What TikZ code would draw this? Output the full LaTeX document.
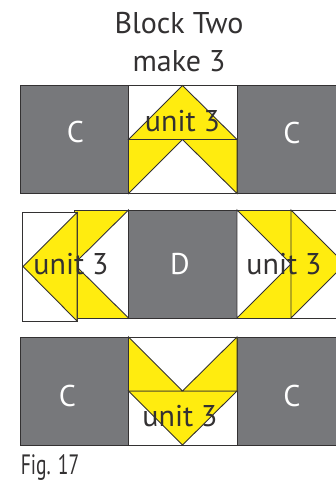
\documentclass[tikz,border=0pt]{standalone}
\usepackage{fontspec}
\setmainfont{PT Sans}
\definecolor{blockGray}{HTML}{77787B}
\definecolor{blockYellow}{HTML}{FFEC0F}
\definecolor{blockLine}{HTML}{333132}
\tikzset{
  patch/.style={draw=blockLine, line width=0.9pt, line join=miter},
  grayPatch/.style={patch, fill=blockGray},
  yellowPatch/.style={patch, fill=blockYellow},
  whitePatch/.style={patch, fill=white},
  letterLabel/.style={text=white, font=\fontsize{30}{30}\selectfont},
  unitLabel/.style={text=blockLine, font=\fontsize{30}{30}\selectfont},
  titleLabel/.style={text=blockLine, font=\fontsize{30}{30}\selectfont}
}

\begin{document}
\begin{tikzpicture}[x=1pt, y=-1pt]
  \path[use as bounding box, clip] (0,0) rectangle (336,485);
  \fill[white] (0,0) rectangle (336,485);

  % top row
  \draw[grayPatch] (20.5,85) rectangle (128.5,193.5);
  \draw[grayPatch] (237,85) rectangle (345,193.5);
  \draw[whitePatch] (128.5,85.5) rectangle (237,193.5);
  \draw[yellowPatch] (128.5,139.5) -- (182.5,85.5) -- (237,139.5) -- cycle;
  \draw[yellowPatch] (128.5,139.5) -- (182.5,139.5) -- (128.5,193.5) -- cycle;
  \draw[yellowPatch] (237,139.5) -- (182.5,139.5) -- (237,193.5) -- cycle;

  % middle row
  \draw[grayPatch] (128.5,210) rectangle (237,318);
  \draw[yellowPatch] (74,210) rectangle (128.5,318);
  \draw[whitePatch] (128.5,210) -- (74,264) -- (128.5,318) -- cycle;
  \draw[whitePatch] (22.5,212.5) rectangle (77,321);
  \draw[yellowPatch] (77,212.5) -- (23,266.5) -- (77,321) -- cycle;
  \draw[yellowPatch] (237,210) rectangle (291,318);
  \draw[whitePatch] (237,210) -- (291,264) -- (237,318) -- cycle;
  \draw[whitePatch] (291,210) rectangle (345,318);
  \draw[yellowPatch] (291,210) -- (345,264) -- (291,318) -- cycle;

  % bottom row
  \draw[grayPatch] (20,337) rectangle (128.5,445);
  \draw[grayPatch] (237,337) rectangle (345,445);
  \draw[whitePatch] (128.5,337) rectangle (237,445);
  \draw[yellowPatch] (128.5,391) -- (182.5,445) -- (237,391) -- cycle;
  \draw[yellowPatch] (128.5,337) -- (182.5,391) -- (128.5,391) -- cycle;
  \draw[yellowPatch] (237,337) -- (182.5,391) -- (237,391) -- cycle;

  % labels
  \node[titleLabel] (titleOne) at (179,23) {Block Two};
  \node[titleLabel] (titleTwo) at (179,61) {make 3};
  \node[letterLabel] (labelCa) at (75.5,132) {C};
  \node[letterLabel] (labelCb) at (292,133) {C};
  \node[unitLabel] (unitTop) at (182.5,121) {unit 3};
  \node[unitLabel] (unitLeft) at (71,264) {unit 3};
  \node[letterLabel] (labelD) at (180,264) {D};
  \node[unitLabel] (unitRight) at (284,264) {unit 3};
  \node[letterLabel] (labelCc) at (67.5,396) {C};
  \node[letterLabel] (labelCd) at (292,396) {C};
  \node[unitLabel] (unitBottom) at (180,416) {unit 3};
  \node[text=blockLine, font=\fontsize{28}{28}\selectfont, xscale=0.7] (figLabel) at (50,467) {Fig. 17};
\end{tikzpicture}
\end{document}
